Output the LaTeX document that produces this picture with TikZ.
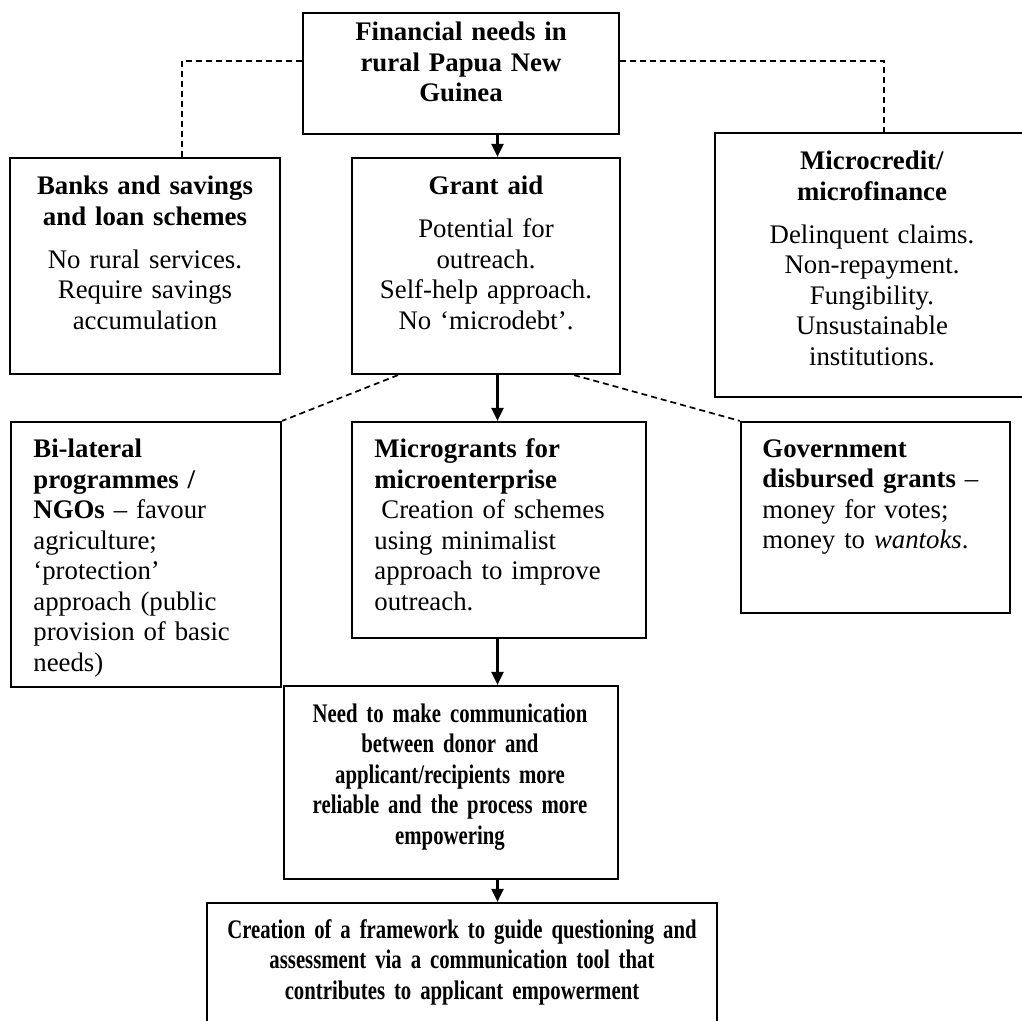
\documentclass[tikz,border=0pt]{standalone}
\usepackage{fontspec}
\setmainfont{Liberation Serif}
\newfontfamily\narrowserif[FakeStretch=0.775]{Liberation Serif}
\usetikzlibrary{arrows.meta,fit}

\begin{document}
\begin{tikzpicture}[x=0.5pt,y=-0.5pt,
  box/.style={draw, line width=1.1pt, inner sep=0pt},
  txt/.style={inner sep=0pt, text width=300pt, font=\fontsize{13.4pt}{15.25pt}\selectfont},
  ctext/.style={txt, align=center, anchor=base},
  ltext/.style={txt, align=left, anchor=base west},
  ntext/.style={ctext, font=\narrowserif\fontsize{13.4pt}{15.25pt}\selectfont},
  link/.style={line width=0.85pt, dash pattern=on 3pt off 2pt},
  flow/.style={line width=1.1pt, -{Triangle[length=6.5pt,width=6pt]}}]

\path[use as bounding box, fill=white] (0,0) rectangle (1022,1021);
\clip (0,0) rectangle (1022,1021);

% boxes
\node[box, fit={(303,13) (619,134)}]   (fin)   {};
\node[box, fit={(10,158) (280,374)}]   (banks) {};
\node[box, fit={(352,158) (620,374)}]  (grant) {};
\node[box, fit={(715,133) (1035,397)}] (micro) {};
\node[box, fit={(11,422) (281,687)}]   (bilat) {};
\node[box, fit={(352,422) (646,638)}]  (mg)    {};
\node[box, fit={(741,422) (1010,613)}] (gov)   {};
\node[box, fit={(284,686) (618,879)}]  (need)  {};
\node[box, fit={(207,903) (717,1045)}] (cre)   {};

% box texts
\node[ctext] (finT) at (461,41)
  {\textbf{Financial needs in}\\\textbf{rural Papua New}\\\textbf{Guinea}};
\node[ctext] (banksT) at (145,195)
  {\textbf{Banks and savings}\\\textbf{and loan schemes}\\[6.25pt]No rural services.\\Require savings\\accumulation};
\node[ctext] (grantT) at (486,195)
  {\textbf{Grant aid}\\[6.25pt]Potential for\\outreach.\\Self-help approach.\\No ‘microdebt’.};
\node[ctext] (microT) at (872,170)
  {\textbf{Microcredit/}\\\textbf{microfinance}\\[6.25pt]Delinquent claims.\\Non-repayment.\\Fungibility.\\Unsustainable\\institutions.};
\node[ltext] (bilatT) at (33,458)
  {\textbf{Bi-lateral}\\\textbf{programmes /}\\\textbf{NGOs} – favour\\agriculture;\\‘protection’\\approach (public\\provision of basic\\needs)};
\node[ltext] (mgT) at (374,458)
  {\textbf{Microgrants for}\\\textbf{microenterprise}\\\hspace*{3.5pt}Creation of schemes\\using minimalist\\approach to improve\\outreach.};
\node[ltext] (govT) at (762,457)
  {\textbf{Government}\\\textbf{disbursed grants} –\\money for votes;\\money to \textit{wantoks}.};
\node[ntext] (needT) at (450,722)
  {\textbf{Need to make communication}\\\textbf{between donor and}\\\textbf{applicant/recipients more}\\\textbf{reliable and the process more}\\\textbf{empowering}};
\node[ntext] (creT) at (462,938)
  {\textbf{Creation of a framework to guide questioning and}\\\textbf{assessment via a communication tool that}\\\textbf{contributes to applicant empowerment}};

% reference points for connectors
\coordinate (spine) at (497.5,0);
\coordinate (dl) at (182,61);
\coordinate (dr) at (884,61);
\coordinate (gl) at (398,0);
\coordinate (gr) at (574,0);

% main flow
\draw[flow] (fin.south -| spine) -- (grant.north -| spine);
\draw[flow] (grant.south -| spine) -- (mg.north -| spine);
\draw[flow] (mg.south -| spine) -- (need.north -| spine);
\draw[flow] (need.south -| spine) -- (cre.north -| spine);

% dashed relations
\draw[link] (fin.west |- dl) -- (dl) -- (banks.north -| dl);
\draw[link] (fin.east |- dr) -- (dr) -- (micro.north -| dr);
\draw[link] (grant.south -| gl) -- (bilat.north east);
\draw[link] (grant.south -| gr) -- (gov.north west);
\end{tikzpicture}
\end{document}
